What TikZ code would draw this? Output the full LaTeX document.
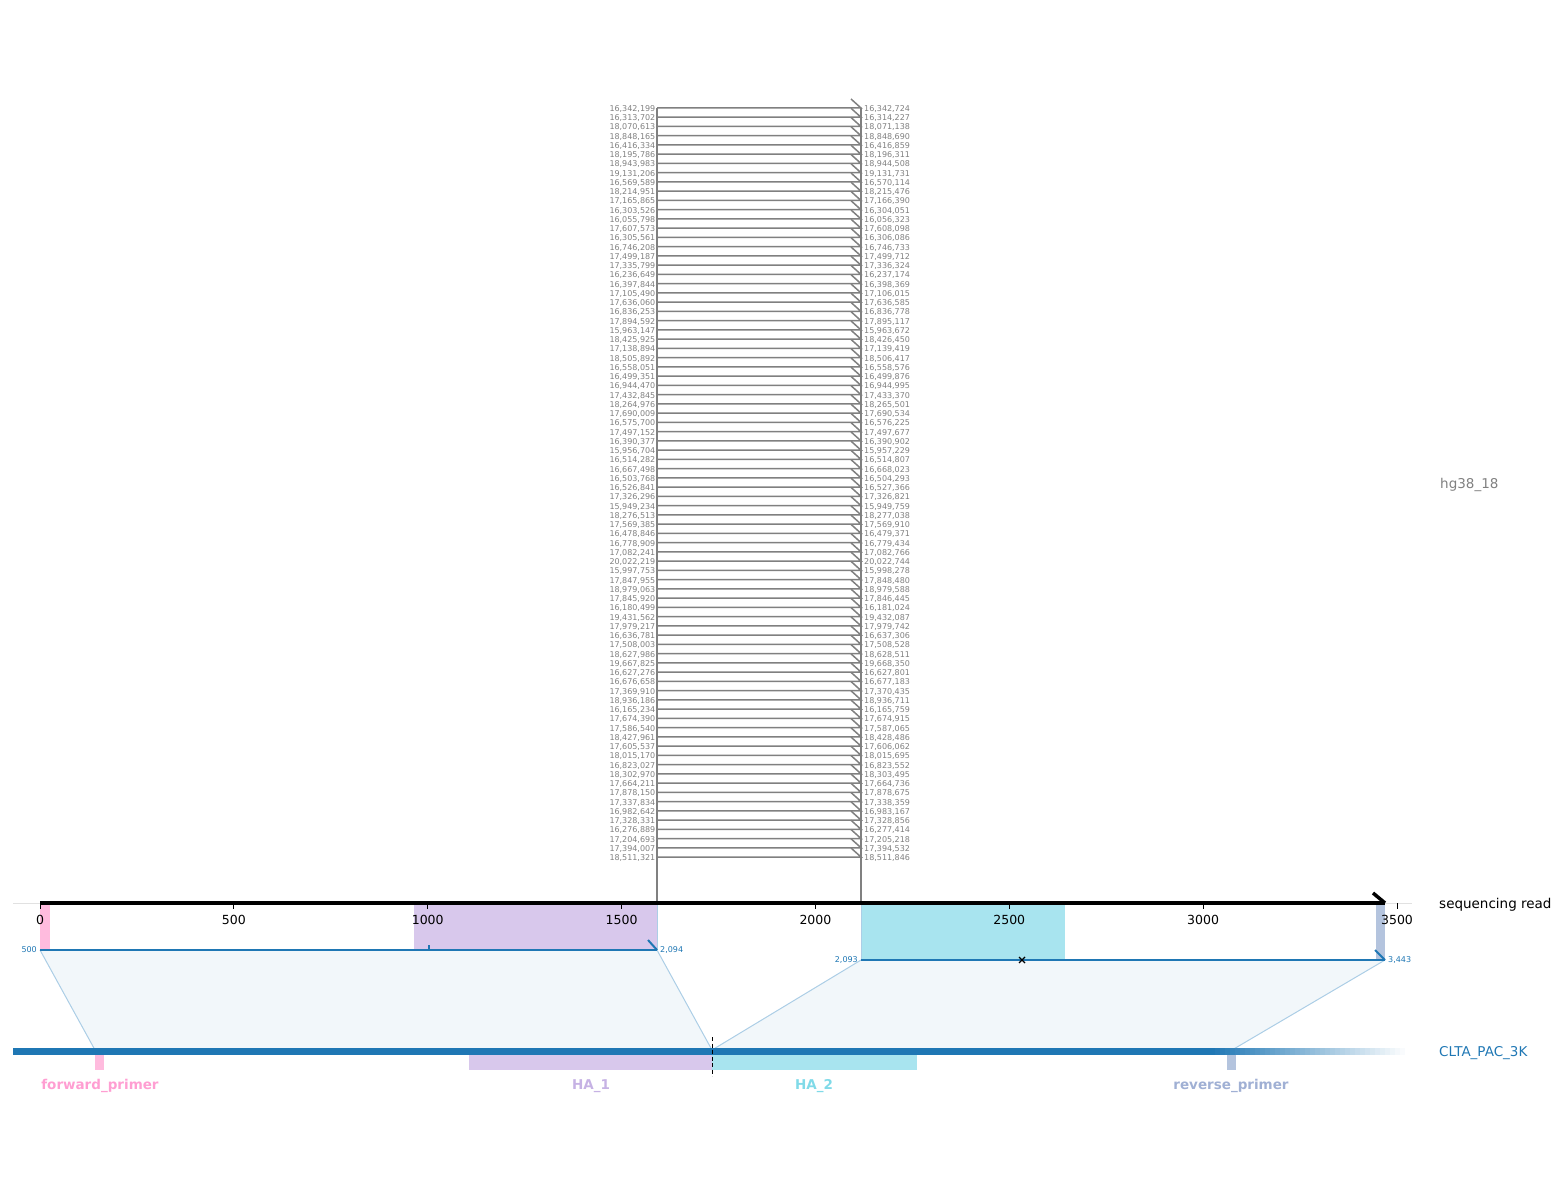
\documentclass[tikz,border=0pt]{standalone}
\usepackage{fontspec}
\setmainfont{DejaVu Sans}
\usetikzlibrary{calc}
\definecolor{gr}{HTML}{808080}
\definecolor{tabblue}{HTML}{1F77B4}
\definecolor{pinkf}{RGB}{255,187,222}
\definecolor{pinkt}{RGB}{255,158,210}
\definecolor{purf}{RGB}{216,200,236}
\definecolor{purt}{RGB}{198,178,228}
\definecolor{cyaf}{RGB}{168,228,239}
\definecolor{cyat}{RGB}{128,218,232}
\definecolor{gbf}{RGB}{180,196,222}
\definecolor{gbt}{RGB}{160,176,212}
\definecolor{edgeb}{RGB}{172,206,230}
\definecolor{polyf}{RGB}{242,247,250}
\definecolor{spine}{RGB}{225,225,225}
\begin{document}
\begin{tikzpicture}[x=1pt,y=-1pt,
  rowline/.style={draw=gr,line width=1.5pt},
  vline/.style={draw=gr,line width=2pt},
  leftlab/.style={font=\fontsize{8}{8}\selectfont,text=gr,inner sep=0pt,anchor=east,yshift=-1pt},
  rightlab/.style={font=\fontsize{8}{8}\selectfont,text=gr,inner sep=0pt,anchor=west,yshift=-1pt},
  ticklab/.style={font=\fontsize{12.5}{12.5}\selectfont,text=black,inner sep=0pt},
  sidelab/.style={font=\fontsize{13.5}{13.5}\selectfont,inner sep=0pt,anchor=west,yshift=-2pt},
  featlab/.style={font=\bfseries\fontsize{13.5}{13.5}\selectfont,inner sep=0pt,yshift=-2pt},
  alnlab/.style={font=\fontsize{8}{8}\selectfont,text=tabblue,inner sep=0pt},
  alnline/.style={draw=tabblue,line width=2.5pt},
  edgeline/.style={draw=edgeb,line width=1pt},
  tickmark/.style={draw=black,line width=0.9pt}
]
\useasboundingbox (0,0) rectangle (1565,1180);

% ---------- coordinates ----------
\coordinate (ax0) at (40,903);
\coordinate (ax1) at (1385,903);
\coordinate (axtip) at (1373,893);
\coordinate (sp0) at (13,903);
\coordinate (sp1) at (1412,903);
\coordinate (a1l) at (40,950);
\coordinate (a1r) at (657,950);
\coordinate (a1tip) at (648,940);
\coordinate (a1tick) at (429,945);
\coordinate (a1tickb) at (429,950);
\coordinate (a2l) at (861,960);
\coordinate (a2r) at (1385,960);
\coordinate (a2tip) at (1375,950);
\coordinate (r1l) at (95,1050);
\coordinate (r1r) at (712,1050);
\coordinate (r2l) at (712,1050);
\coordinate (r2r) at (1232,1050);
\coordinate (vl0) at (657,108);
\coordinate (vl1) at (657,903);
\coordinate (vr0) at (861,108);
\coordinate (vr1) at (861,903);
\coordinate (dash0) at (712,1037);
\coordinate (dash1) at (712,1076);

% ---------- alignment polygons ----------
\fill[polyf] (a1l) -- (a1r) -- (r1r) -- (r1l) -- cycle;
\fill[polyf] (a2l) -- (a2r) -- (r2r) -- (r2l) -- cycle;
\draw[edgeline] (a1l) -- (r1l);
\draw[edgeline] (a1r) -- (r1r);
\draw[edgeline] (a2l) -- (r2l);
\draw[edgeline] (a2r) -- (r2r);

% ---------- features on read ----------
\fill[pinkf] (40,905) rectangle (50,950);
\fill[purf] (414,905) rectangle (657,950);
\fill[cyaf] (861,905) rectangle (1065,960);
\fill[gbf] (1376,905) rectangle (1385,960);
\draw[edgeline] (657,905) -- (a1r);
\draw[edgeline] (861,905) -- (a2l);

% ---------- reference bar ----------
\fill[tabblue] (13,1048) rectangle (1216,1055);
\foreach \k in {0,...,38}{
  \pgfmathsetmacro\pc{100-(\k+1)*100/39}
  \fill[tabblue!\pc!white] (1215+\k*5,1048) rectangle (1215+\k*5+5.4,1055);
}
\fill[pinkf] (95,1055) rectangle (104,1070);
\fill[purf] (469,1055) rectangle (712,1070);
\fill[cyaf] (712,1055) rectangle (917,1070);
\fill[gbf] (1227,1055) rectangle (1236,1070);
\draw[black,line width=0.9pt,dash pattern=on 4pt off 2.5pt] (dash0) -- (dash1);

\node[featlab,text=pinkt] (fp) at (100,1084) {forward\_primer};
\node[featlab,text=purt] (ha1) at (591,1084) {HA\_1};
\node[featlab,text=cyat] (ha2) at (814,1084) {HA\_2};
\node[featlab,text=gbt] (rp) at (1231,1084) {reverse\_primer};
\node[sidelab,text=tabblue] (ref) at (1439,1051) {CLTA\_PAC\_3K};

% ---------- alignment lines ----------
\draw[alnline] (a1l) -- (a1r);
\draw[alnline,line width=2pt] (a1tip) -- (a1r);
\draw[draw=tabblue,line width=1.5pt] (a1tick) -- (a1tickb);
\draw[alnline] (a2l) -- (a2r);
\draw[alnline,line width=2pt] (a2tip) -- (a2r);
\draw[black,line width=1.1pt] (1019,957) -- (1025,963) (1019,963) -- (1025,957);
\node[alnlab,anchor=east] (n500) at (37,950) {500};
\node[alnlab,anchor=west] (n2094) at (660,950) {2,094};
\node[alnlab,anchor=east] (n2093) at (858,959.5) {2,093};
\node[alnlab,anchor=west] (n3443) at (1388,959.5) {3,443};

% ---------- genomic rows ----------
\draw[vline] (vl0) -- (vl1);
\draw[vline] (vr0) -- (vr1);
\foreach \a/\b [count=\i] in {
{16,342,199}/{16,342,724},{16,313,702}/{16,314,227},{18,070,613}/{18,071,138},{18,848,165}/{18,848,690},
{16,416,334}/{16,416,859},{18,195,786}/{18,196,311},{18,943,983}/{18,944,508},{19,131,206}/{19,131,731},
{16,569,589}/{16,570,114},{18,214,951}/{18,215,476},{17,165,865}/{17,166,390},{16,303,526}/{16,304,051},
{16,055,798}/{16,056,323},{17,607,573}/{17,608,098},{16,305,561}/{16,306,086},{16,746,208}/{16,746,733},
{17,499,187}/{17,499,712},{17,335,799}/{17,336,324},{16,236,649}/{16,237,174},{16,397,844}/{16,398,369},
{17,105,490}/{17,106,015},{17,636,060}/{17,636,585},{16,836,253}/{16,836,778},{17,894,592}/{17,895,117},
{15,963,147}/{15,963,672},{18,425,925}/{18,426,450},{17,138,894}/{17,139,419},{18,505,892}/{18,506,417},
{16,558,051}/{16,558,576},{16,499,351}/{16,499,876},{16,944,470}/{16,944,995},{17,432,845}/{17,433,370},
{18,264,976}/{18,265,501},{17,690,009}/{17,690,534},{16,575,700}/{16,576,225},{17,497,152}/{17,497,677},
{16,390,377}/{16,390,902},{15,956,704}/{15,957,229},{16,514,282}/{16,514,807},{16,667,498}/{16,668,023},
{16,503,768}/{16,504,293},{16,526,841}/{16,527,366},{17,326,296}/{17,326,821},{15,949,234}/{15,949,759},
{18,276,513}/{18,277,038},{17,569,385}/{17,569,910},{16,478,846}/{16,479,371},{16,778,909}/{16,779,434},
{17,082,241}/{17,082,766},{20,022,219}/{20,022,744},{15,997,753}/{15,998,278},{17,847,955}/{17,848,480},
{18,979,063}/{18,979,588},{17,845,920}/{17,846,445},{16,180,499}/{16,181,024},{19,431,562}/{19,432,087},
{17,979,217}/{17,979,742},{16,636,781}/{16,637,306},{17,508,003}/{17,508,528},{18,627,986}/{18,628,511},
{19,667,825}/{19,668,350},{16,627,276}/{16,627,801},{16,676,658}/{16,677,183},{17,369,910}/{17,370,435},
{18,936,186}/{18,936,711},{16,165,234}/{16,165,759},{17,674,390}/{17,674,915},{17,586,540}/{17,587,065},
{18,427,961}/{18,428,486},{17,605,537}/{17,606,062},{18,015,170}/{18,015,695},{16,823,027}/{16,823,552},
{18,302,970}/{18,303,495},{17,664,211}/{17,664,736},{17,878,150}/{17,878,675},{17,337,834}/{17,338,359},
{16,982,642}/{16,983,167},{17,328,331}/{17,328,856},{16,276,889}/{16,277,414},{17,204,693}/{17,205,218},
{17,394,007}/{17,394,532},{18,511,321}/{18,511,846}}{
  \pgfmathsetmacro\yy{108+(\i-1)*9.247}
  \coordinate (hl\i) at (657,\yy);
  \coordinate (hr\i) at (861,\yy);
  \coordinate (ht\i) at (851,\yy-9);
  \draw[rowline,line join=miter] (hl\i) -- (hr\i) -- (ht\i);
  \node[leftlab] (L\i) at (655.5,\yy) {\a};
  \node[rightlab] (R\i) at (864,\yy) {\b};
}
\node[sidelab,text=gr] (chr) at (1440,483) {hg38\_18};

% ---------- read axis ----------
\draw[draw=spine,line width=0.8pt] (sp0) -- (sp1);
\foreach \v/\lab in {0/0,500/500,1000/1000,1500/1500,2000/2000,2500/2500,3000/3000,3500/3500}{
  \pgfmathsetmacro\xx{40+\v*0.38771}
  \coordinate (tk\v) at (\xx,903);
  \coordinate (tb\v) at (\xx,909);
  \draw[tickmark] (tk\v) -- (tb\v);
  \node[ticklab] (tl\v) at (\xx,919.5) {\lab};
}
\draw[black,line width=4pt] (ax0) -- (ax1);
\draw[black,line width=3.5pt] (axtip) -- (ax1);
\node[sidelab,text=black] (seq) at (1439,903) {sequencing read};
\end{tikzpicture}
\end{document}
